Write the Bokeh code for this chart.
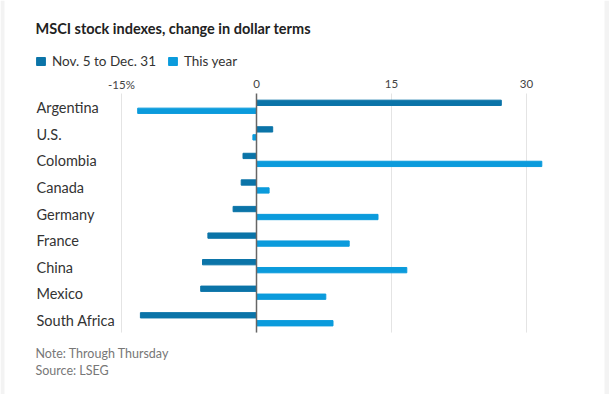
from bokeh.plotting import figure
from bokeh.models import (Range1d, ColumnDataSource, Legend, LegendItem, BoxAnnotation)
from bokeh.core.properties import value
from bokeh.embed import file_html
from bokeh.resources import INLINE

countries = ["Argentina", "U.S.", "Colombia", "Canada", "Germany", "France",
             "China", "Mexico", "South Africa"]
since_nov5 = [27.2, 1.8, -1.5, -1.7, -2.6, -5.4, -6.0, -6.2, -12.9]
this_year = [-13.2, -0.4, 31.7, 1.4, 13.5, 10.3, 16.7, 7.7, 8.5]
tick_values = [-15, 0, 15, 30]
tick_labels = ["-15%", "0", "15", "30"]
series_names = ["Nov. 5 to Dec. 31", "This year"]

DARK = "#0b74a8"
LIGHT = "#0b9bdc"
FONT = "Lato"
W, H = 609, 394

# layout: pixel -> data mapping (frame covers the whole canvas)
X0, XS = 256.0, 9.0      # px of value 0, px per percent
Y0, YS = 106.3, 26.56    # px of first row centre, px per row
TFIX = -6.0              # text baseline correction, px
def dx(px): return (px - X0) / XS
def dy(py): return (py - Y0) / YS

n = len(countries)
idx = list(range(n))
src = ColumnDataSource(dict(
    y1=[i - 0.15 for i in idx], y2=[i + 0.15 for i in idx],
    a=since_nov5, b=this_year, name=countries,
    ylab=[i + (7 + TFIX) / YS for i in idx],
))

p = figure(width=W, height=H, output_backend="svg", toolbar_location=None,
           x_range=Range1d(dx(0), dx(W)), y_range=Range1d(dy(H), dy(0)),
           min_border=0, x_axis_type=None, y_axis_type=None)
p.outline_line_color = None
p.background_fill_color = "white"
p.border_fill_color = "white"
p.grid.visible = False

# side strips of the card background
p.add_layout(BoxAnnotation(left=dx(0), right=dx(4), fill_color="#f3f3f3", fill_alpha=1, line_color=None))
p.add_layout(BoxAnnotation(left=dx(604), right=dx(W), fill_color="#f3f3f3", fill_alpha=1, line_color=None))

# grid lines
grid_x = [v for v in tick_values if v != 0]
p.segment(x0=grid_x, x1=grid_x, y0=-0.5, y1=n - 0.5, line_color="#e4e4e4", line_width=1)

r1 = p.hbar(y="y1", right="a", left=0, height=0.2, color=DARK, source=src)
r2 = p.hbar(y="y2", right="b", left=0, height=0.2, color=LIGHT, source=src)

# zero line
p.segment(x0=[0], x1=[0], y0=-0.5, y1=n - 0.5, line_color="#666666", line_width=1.5)

# tick labels
p.text(x=tick_values, y=dy(89.5 + TFIX), text=tick_labels, text_font=value(FONT),
       text_font_size="11.5px", text_color="#444444", text_align="center",
       text_baseline="alphabetic")

# category labels
p.text(x=dx(36), y="ylab", text="name", source=src, text_font=value(FONT),
       text_font_size="14.5px", text_color="#333333", text_align="left",
       text_baseline="alphabetic")

legend = Legend(items=[LegendItem(label=series_names[0], renderers=[r1]),
                       LegendItem(label=series_names[1], renderers=[r2])],
                orientation="horizontal", location=(35, H - 69),
                glyph_width=11, glyph_height=10, label_height=10, label_width=10,
                label_text_font=FONT, label_text_font_size="13.5px",
                label_text_color="#333333", padding=0, spacing=11,
                label_standoff=6, margin=0, border_line_color=None,
                background_fill_alpha=0)
p.add_layout(legend, "center")

p.text(x=[dx(35)], y=[dy(34 + TFIX)], text=["MSCI stock indexes, change in dollar terms"],
       text_font=value(FONT), text_font_size="14.5px", text_font_style="bold",
       text_color="#222222", text_baseline="alphabetic")
p.text(x=[dx(35), dx(35)], y=[dy(359 + TFIX), dy(376 + TFIX)],
       text=["Note: Through Thursday", "Source: LSEG"],
       text_font=value(FONT), text_font_size="12.5px",
       text_color="#777777", text_baseline="alphabetic")

open("out.html", "w").write(file_html(p, INLINE))
